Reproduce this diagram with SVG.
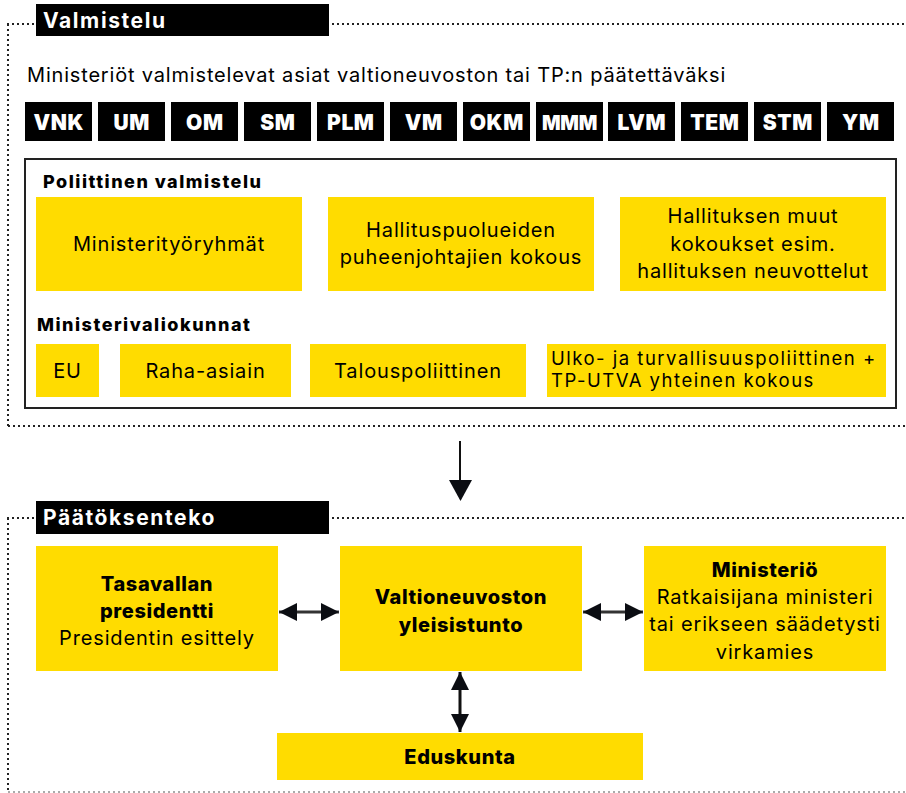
<svg xmlns="http://www.w3.org/2000/svg" width="906" height="793" viewBox="0 0 906 793">
<style>
text{font-family:Inter,"Noto Sans","Liberation Sans",sans-serif;fill:#000}
.y{fill:#FFDC00}
.blk{fill:#000}
.hd{font-size:21px;font-weight:700;fill:#fff;letter-spacing:1.6px}
.ab{font-size:21px;font-weight:900;fill:#fff;text-anchor:middle;letter-spacing:0.6px}
.t{font-size:20px;text-anchor:middle;letter-spacing:0.85px}
.tb{font-size:20px;font-weight:800;text-anchor:middle;letter-spacing:0.6px}
.lb{font-size:18px;font-weight:800;letter-spacing:1.5px}
.dot{stroke:#222;stroke-width:2;stroke-dasharray:2 3;fill:none}
.ln{stroke:#111;stroke-width:2;fill:none}
</style>
<defs>
<marker id="ah" viewBox="0 0 10 10" refX="10" refY="5" markerWidth="6" markerHeight="6" markerUnits="strokeWidth" orient="auto-start-reverse"><path d="M0,0 L10,5 L0,10 Z" fill="#0b0d12"/></marker>
</defs>

<g id="frames">
<path class="dot" d="M7,24 H906 M8,24 V426 M8,426 H906"/>
<path class="dot" d="M7,518 H906 M8,518 V792"/>
<path d="M8,792 H906" stroke="#aaa" stroke-width="2" stroke-dasharray="2 3"/>
</g>

<g id="valmistelu-header">
<rect class="blk" x="36" y="4" width="293" height="32"/>
<text class="hd" x="43" y="28">Valmistelu</text>
</g>
<text id="subtitle" x="27" y="82" font-size="20" letter-spacing="0.82">Ministeriöt valmistelevat asiat valtioneuvoston tai TP:n päätettäväksi</text>

<g id="ministeriot">
<g id="VNK"><rect class="blk" x="25" y="102" width="67" height="39"/><text class="ab" x="58.8" y="129.5">VNK</text></g>
<g id="UM"><rect class="blk" x="98" y="102" width="67" height="39"/><text class="ab" x="131.8" y="129.5">UM</text></g>
<g id="OM"><rect class="blk" x="171" y="102" width="67" height="39"/><text class="ab" x="204.8" y="129.5">OM</text></g>
<g id="SM"><rect class="blk" x="244" y="102" width="67" height="39"/><text class="ab" x="277.8" y="129.5">SM</text></g>
<g id="PLM"><rect class="blk" x="317" y="102" width="67" height="39"/><text class="ab" x="350.8" y="129.5">PLM</text></g>
<g id="VM"><rect class="blk" x="390" y="102" width="67" height="39"/><text class="ab" x="423.8" y="129.5">VM</text></g>
<g id="OKM"><rect class="blk" x="463" y="102" width="67" height="39"/><text class="ab" x="496.8" y="129.5">OKM</text></g>
<g id="MMM"><rect class="blk" x="536" y="102" width="67" height="39"/><text class="ab" x="569.5" y="129.5" style="font-size:19.5px;letter-spacing:-0.3px">MMM</text></g>
<g id="LVM"><rect class="blk" x="608" y="102" width="67" height="39"/><text class="ab" x="641.8" y="129.5">LVM</text></g>
<g id="TEM"><rect class="blk" x="681" y="102" width="67" height="39"/><text class="ab" x="714.8" y="129.5">TEM</text></g>
<g id="STM"><rect class="blk" x="754" y="102" width="67" height="39"/><text class="ab" x="787.8" y="129.5">STM</text></g>
<g id="YM"><rect class="blk" x="827" y="102" width="67" height="39"/><text class="ab" x="860.8" y="129.5">YM</text></g>
</g>

<g id="poliittinen">
<rect x="25" y="159" width="871" height="249" fill="#fff" stroke="#222" stroke-width="2"/>
<text class="lb" x="43" y="188">Poliittinen valmistelu</text>
<text class="lb" x="37" y="331">Ministerivaliokunnat</text>
</g>

<g id="ministerityoryhmat"><rect class="y" x="36" y="197" width="266" height="94"/><text class="t" x="169" y="251">Ministerityöryhmät</text></g>
<g id="hallituspuolueiden"><rect class="y" x="328" y="197" width="266" height="94"/><text class="t" x="461" y="237">Hallituspuolueiden</text><text class="t" x="461" y="264">puheenjohtajien kokous</text></g>
<g id="hallituksen-muut"><rect class="y" x="620" y="197" width="266" height="94"/><text class="t" x="753" y="223">Hallituksen muut</text><text class="t" x="753" y="251">kokoukset esim.</text><text class="t" x="753" y="278">hallituksen neuvottelut</text></g>

<g id="EU"><rect class="y" x="36" y="344" width="63" height="53"/><text class="t" x="67.5" y="378">EU</text></g>
<g id="raha-asiain"><rect class="y" x="120" y="344" width="171" height="53"/><text class="t" x="205.5" y="378">Raha-asiain</text></g>
<g id="talouspoliittinen"><rect class="y" x="310" y="344" width="216" height="53"/><text class="t" x="418" y="378">Talouspoliittinen</text></g>
<g id="ulko"><rect class="y" x="547" y="344" width="339" height="53"/><text x="551" y="365" font-size="18.5" letter-spacing="1.5">Ulko- ja turvallisuuspoliittinen +</text><text x="551" y="387" font-size="18.5" letter-spacing="1.5">TP-UTVA yhteinen kokous</text></g>

<g id="paatoksenteko-header">
<rect class="blk" x="36" y="501" width="293" height="33"/>
<text class="hd" x="43" y="525">Päätöksenteko</text>
</g>

<g id="presidentti"><rect class="y" x="36" y="546" width="242" height="125"/><text class="tb" x="157" y="591">Tasavallan</text><text class="tb" x="157" y="618">presidentti</text><text class="t" x="157" y="645">Presidentin esittely</text></g>
<g id="yleisistunto"><rect class="y" x="340" y="546" width="242" height="125"/><text class="tb" x="461" y="604">Valtioneuvoston</text><text class="tb" x="461" y="632">yleisistunto</text></g>
<g id="ministerio"><rect class="y" x="644" y="546" width="242" height="125"/><text class="tb" x="765" y="577">Ministeriö</text><text class="t" x="765" y="604">Ratkaisijana ministeri</text><text class="t" x="765" y="631">tai erikseen säädetysti</text><text class="t" x="765" y="659">virkamies</text></g>
<g id="eduskunta"><rect class="y" x="277" y="733" width="366" height="47"/><text class="tb" x="460" y="764">Eduskunta</text></g>

<g id="connectors">
<line class="ln" x1="460" y1="441" x2="460" y2="480"/>
<path d="M449,480 L472,480 L460.5,501 Z" fill="#0b0d12"/>
<line x1="279" y1="612" x2="339" y2="612" stroke="#333" stroke-width="3" marker-start="url(#ah)" marker-end="url(#ah)"/>
<line x1="583" y1="612" x2="643" y2="612" stroke="#333" stroke-width="3" marker-start="url(#ah)" marker-end="url(#ah)"/>
<line x1="460" y1="672" x2="460" y2="732" stroke="#111" stroke-width="3" marker-start="url(#ah)" marker-end="url(#ah)"/>
</g>
</svg>
